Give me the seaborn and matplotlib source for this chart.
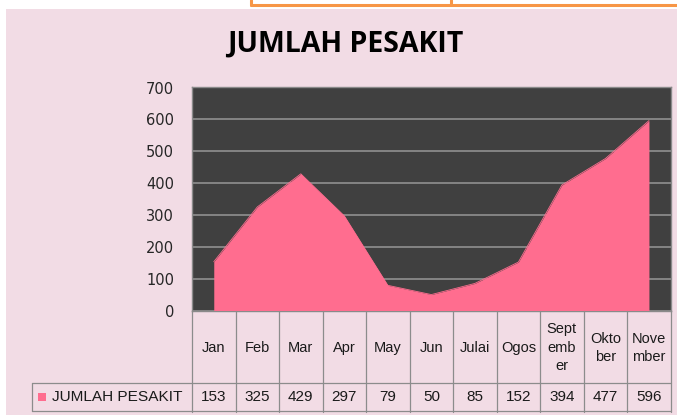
import numpy as np
import pandas as pd
import matplotlib
matplotlib.use("Agg")
import matplotlib.pyplot as plt
from matplotlib.patches import Rectangle
from matplotlib.lines import Line2D
import seaborn as sns

# data
months = ["Jan", "Feb", "Mar", "Apr", "May", "Jun", "Julai", "Ogos",
          "September", "Oktober", "November"]
# header labels as they are wrapped in the data table
month_labels = ["Jan", "Feb", "Mar", "Apr", "May", "Jun", "Julai", "Ogos",
                "Sept\nemb\ner", "Okto\nber", "Nove\nmber"]
pesakit = [153, 325, 429, 297, 79, 50, 85, 152, 394, 477, 596]
series_name = "JUMLAH PESAKIT"
y_ticks = [0, 100, 200, 300, 400, 500, 600, 700]

df = pd.DataFrame({"bulan": months, "pos": np.arange(len(months)), "pesakit": pesakit})

sns.set_style("white")
plt.rcParams["font.family"] = ["DejaVu Sans"]

W, H = 677, 415
bg = "#F2DCE5"
pink = "#FF6D8F"
dark = "#404040"
grey = "#8A8A8A"


def fx(x):
    return x / W


def fy(y):
    return 1 - y / H


fig = plt.figure(figsize=(W / 100, H / 100), dpi=100, facecolor="white")

# pink chart background and the orange cell selection above it
fig.add_artist(Rectangle((fx(6), fy(415)), fx(677) - fx(6), fy(9) - fy(415),
                         transform=fig.transFigure, facecolor=bg, edgecolor="none", zorder=0))
orange = "#F79646"
fig.add_artist(Line2D([fx(251), fx(677)], [fy(5), fy(5)], transform=fig.transFigure, color=orange, lw=2.2))
fig.add_artist(Line2D([fx(251), fx(251)], [fy(0), fy(5)], transform=fig.transFigure, color=orange, lw=2.2))
fig.add_artist(Line2D([fx(451), fx(451)], [fy(0), fy(5)], transform=fig.transFigure, color=orange, lw=2.2))

# plot area
left, right, top, bottom = 192, 670.7, 87.5, 310.5
ax = fig.add_axes([fx(left), fy(bottom), fx(right) - fx(left), fy(top) - fy(bottom)])
ax.set_facecolor(dark)
sns.lineplot(data=df, x="pos", y="pesakit", color=pink, lw=0.6, ax=ax, zorder=4)
ax.fill_between(df["pos"], 0, df["pesakit"], color=pink, lw=0, zorder=3)
ax.set_xlim(-0.5, len(months) - 0.5)
ax.set_ylim(0, 700)
ax.set_yticks(y_ticks)
ax.set_yticklabels([str(t) for t in y_ticks], fontsize=10.5, color="#262626")
ax.set_xticks([])
ax.set_xlabel("")
ax.set_ylabel("")
ax.tick_params(axis="y", length=0, pad=13)
ax.yaxis.grid(True, color=grey, lw=1.3)
ax.set_axisbelow(True)
for s in ax.spines.values():
    s.set_color(grey)
    s.set_linewidth(1.0)

# title
fig.text(fx(345.5), fy(44), "JUMLAH PESAKIT", ha="center", va="center",
         fontsize=20.5, fontweight="bold", family=["Open Sans", "DejaVu Sans"], color="black")

# data table under the plot
t_left, t_bottom = 32, 411.5
colw = (right - left) / len(months)
tab = fig.add_axes([fx(t_left), fy(t_bottom), fx(right) - fx(t_left), fy(bottom) - fy(t_bottom)])
tab.set_xlim(-0.5 - (left - t_left) / colw, len(months) - 0.5)
tab.set_ylim(0, t_bottom - bottom)
tab.axis("off")
x0 = tab.get_xlim()[0]
row_h = t_bottom - 383
tab_h = t_bottom - bottom
lc = "#8C8C8C"
for k in range(len(months) + 1):
    tab.plot([k - 0.5, k - 0.5], [0, tab_h], color=lc, lw=0.9, clip_on=False)
tab.plot([x0, len(months) - 0.5], [row_h, row_h], color=lc, lw=0.9, clip_on=False)
tab.plot([x0, len(months) - 0.5], [0.5, 0.5], color=lc, lw=0.9, clip_on=False)
tab.plot([x0, x0], [0.5, row_h], color=lc, lw=0.9, clip_on=False)

tfont = ["Liberation Sans", "DejaVu Sans"]
for i, (lab, v) in enumerate(zip(month_labels, pesakit)):
    tab.text(i, (row_h + tab_h) / 2 - 1, lab, ha="center", va="center", fontsize=10.5,
             family=tfont, color="#1a1a1a", linespacing=1.4)
    tab.text(i, row_h / 2, str(v), ha="center", va="center", fontsize=11,
             family=tfont, color="#1a1a1a")

# legend key in the table
sq = 8 / colw
tab.add_patch(Rectangle((x0 + 6 / colw, row_h / 2 - 4), sq, 8, facecolor=pink, edgecolor="none"))
tab.text(x0 + 20 / colw, row_h / 2, series_name, ha="left", va="center", fontsize=11.1,
         family=tfont, color="#1a1a1a")

fig.savefig("out.png", dpi=100, facecolor=fig.get_facecolor())
